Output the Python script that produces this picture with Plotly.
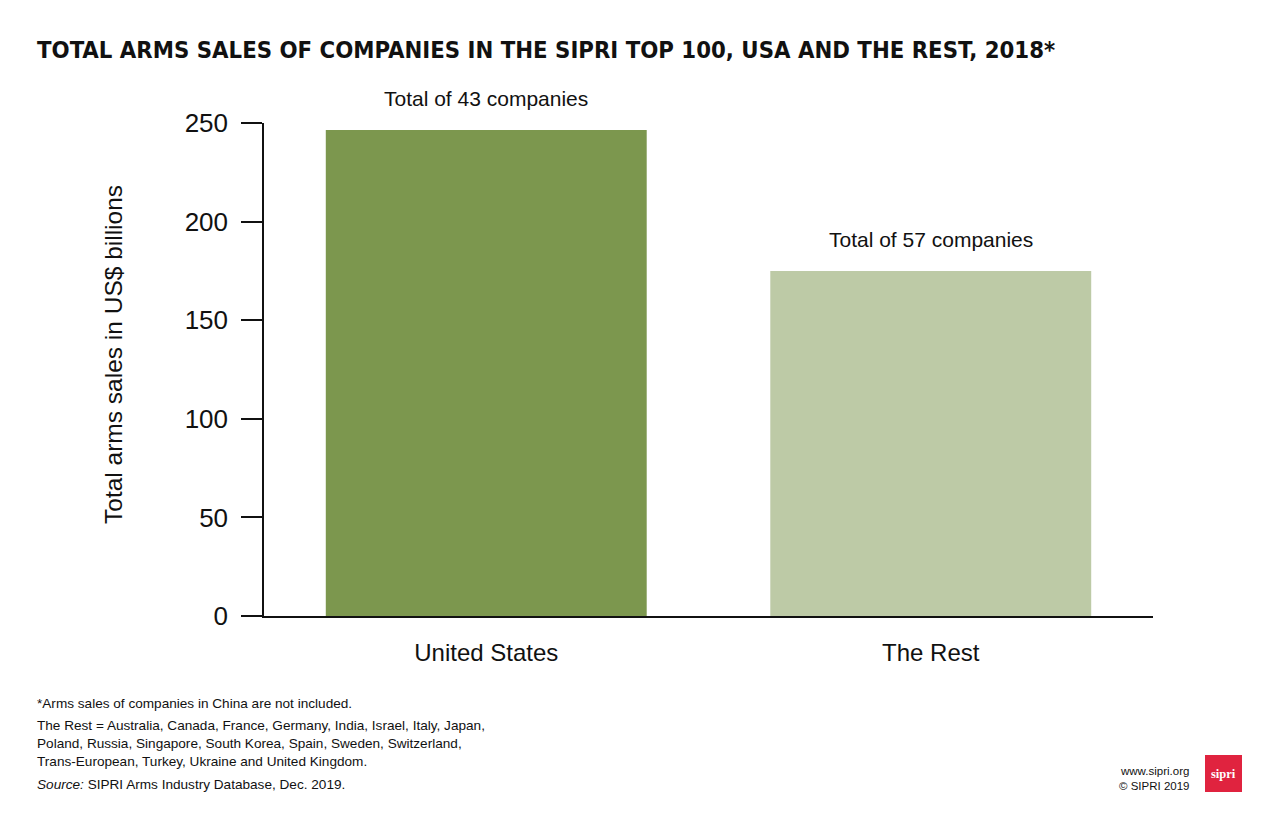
import plotly.graph_objects as go

categories = ["United States", "The Rest"]
values = [246.5, 175]
bar_colors = ["#7C974E", "#BDCAA6"]
bar_labels = ["Total of 43 companies", "Total of 57 companies"]
y_ticks = [0, 50, 100, 150, 200, 250]

FONT = "Liberation Sans"
OFF = 8  # page offset of the figure in the browser

# target plot-area in page pixels
PL, PR, PT, PB = 264, 1153, 123, 616
PW, PH = PR - PL, PB - PT

def px(xp):
    return (xp - PL) / PW

def py(yp):
    return (PB - yp) / PH

fig = go.Figure()
fig.add_trace(go.Bar(
    x=categories, y=values, marker=dict(color=bar_colors, line=dict(width=0)),
    hoverinfo="skip",
))
for c, v, t in zip(categories, values, bar_labels):
    fig.add_annotation(x=c, y=v, text=t, showarrow=False, yshift=31,
                       yanchor="middle", xanchor="center",
                       font=dict(family=FONT, size=21, color="#111"))

fig.update_layout(
    width=1280, height=823,
    margin=dict(l=PL - OFF, r=1280 - (PR - OFF), t=PT - OFF, b=823 - (PB - OFF)),
    paper_bgcolor="white", plot_bgcolor="white",
    bargap=0.278,
    showlegend=False,
    font=dict(family=FONT, color="#111"),
    title=dict(
        text="<b>TOTAL ARMS SALES OF COMPANIES IN THE SIPRI TOP 100, USA AND THE REST, 2018*</b>",
        x=(37 - OFF) / 1280, xanchor="left", y=1 - (50 - OFF) / 823, yanchor="middle",
        font=dict(family="DejaVu Sans Condensed", size=23.7, color="#111"),
    ),
)

fig.update_xaxes(
    showline=True, linecolor="#111", linewidth=1.5,
    ticks="", tickfont=dict(family=FONT, size=24, color="#111"),
    ticklabelstandoff=14,
)
fig.update_yaxes(
    range=[0, 250], tickvals=y_ticks, showgrid=False, zeroline=False,
    showline=True, linecolor="#111", linewidth=1.5,
    ticks="outside", ticklen=21, tickwidth=1.5, tickcolor="#111",
    tickfont=dict(family=FONT, size=26, color="#111"),
    ticklabelstandoff=8,
)

fig.add_annotation(text="Total arms sales in US$ billions", xref="paper", yref="paper",
                   x=px(113), y=py(355), textangle=-90, showarrow=False,
                   xanchor="center", yanchor="middle",
                   font=dict(family=FONT, size=24.5, color="#111"))

notes = [
    ("*Arms sales of companies in China are not included.", 703),
    ("The Rest = Australia, Canada, France, Germany, India, Israel, Italy, Japan,", 725),
    ("Poland, Russia, Singapore, South Korea, Spain, Sweden, Switzerland,", 743),
    ("Trans-European, Turkey, Ukraine and United Kingdom.", 761),
    ("<i>Source:</i> SIPRI Arms Industry Database, Dec. 2019.", 784),
]
for txt, ypx in notes:
    fig.add_annotation(text=txt, xref="paper", yref="paper",
                       x=px(35), y=py(ypx),
                       xanchor="left", yanchor="middle", showarrow=False,
                       font=dict(family=FONT, size=13.6, color="#111"))

fig.add_annotation(text="www.sipri.org", xref="paper", yref="paper",
                   x=px(1191), y=py(771),
                   xanchor="right", yanchor="middle", showarrow=False,
                   font=dict(family=FONT, size=11.5, color="#111"))
fig.add_annotation(text="© SIPRI 2019", xref="paper", yref="paper",
                   x=px(1191), y=py(786),
                   xanchor="right", yanchor="middle", showarrow=False,
                   font=dict(family=FONT, size=11.5, color="#111"))

fig.add_shape(type="rect", xref="paper", yref="paper",
              x0=px(1205), x1=px(1242), y0=py(792), y1=py(755),
              fillcolor="#E0233F", line=dict(width=0))
fig.add_annotation(text="<b>sipri</b>", xref="paper", yref="paper",
                   x=px(1223.5), y=py(774),
                   xanchor="center", yanchor="middle", showarrow=False,
                   font=dict(family="Liberation Serif", size=12.5, color="white"))

fig.write_html("out.html")
